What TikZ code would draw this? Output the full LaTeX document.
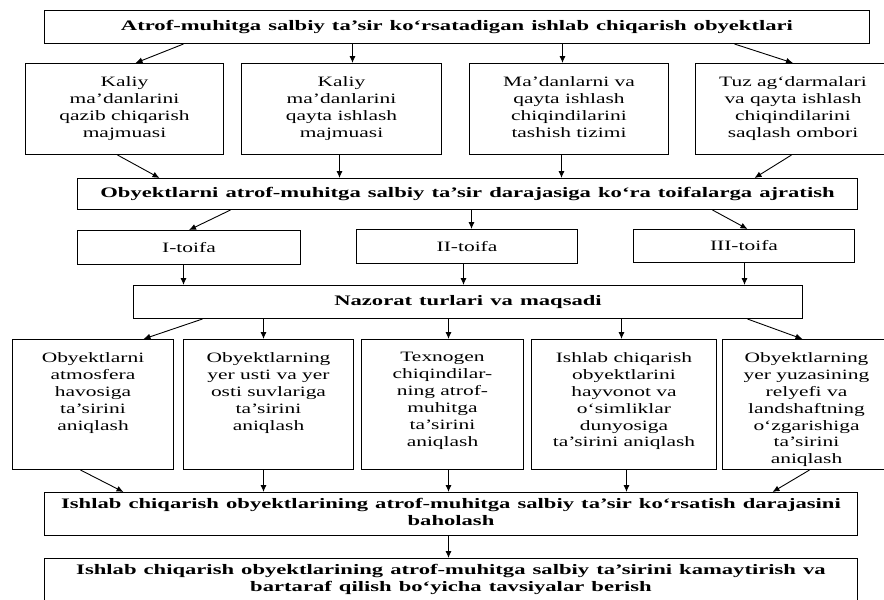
\documentclass[tikz,border=0pt]{standalone}
\usepackage{fontspec}
\setmainfont{Liberation Serif}[FakeStretch=1.5,BoldFeatures={FakeStretch=1.56,WordSpace=1.25}]
\usetikzlibrary{arrows.meta}

\tikzset{
  blok/.style={draw, line width=1pt, inner sep=0pt, anchor=north west, align=center},
  matn/.style={font=\fontsize{14.3}{16.9}\selectfont},
  qalin/.style={font=\fontsize{14.5}{16.3}\selectfont\bfseries},
  link/.style={line width=0.9pt, -{Latex[length=7pt,width=6pt]}}
}
\newcommand{\ustki}[4][13pt]{\parbox[c][#3pt][t]{#2pt}{\centering\vspace*{#1}#4}}

\begin{document}
\begin{tikzpicture}[x=1pt,y=-1pt]
            \useasboundingbox (0,0) rectangle (884,600);
            \clip (0,0) rectangle (884,600);
            % sarlavha
            \node[blok,qalin,minimum width=825pt,minimum height=33pt] (bosh) at (44,10)
              {Atrof-muhitga salbiy ta’sir ko‘rsatadigan ishlab chiqarish obyektlari};
            \node[blok,matn] (r2a) at (25,63) {\ustki{198}{91}{Kaliy\\ma’danlarini\\qazib chiqarish\\majmuasi}};
            \node[blok,matn] (r2b) at (241,63) {\ustki{200}{91}{Kaliy\\ma’danlarini\\qayta ishlash\\majmuasi}};
            \node[blok,matn] (r2c) at (469,63) {\ustki{199}{91}{Ma’danlarni va\\qayta ishlash\\chiqindilarini\\tashish tizimi}};
            \node[blok,matn] (r2d) at (695,63) {\ustki{195}{91}{Tuz ag‘darmalari\\va qayta ishlash\\chiqindilarini\\saqlash ombori}};
            \node[blok,qalin,minimum width=780pt,minimum height=31pt] (ajrat) at (77,178)
              {Obyektlarni atrof-muhitga salbiy ta’sir darajasiga ko‘ra toifalarga ajratish};
            % toifalar
            \node[blok,matn,minimum width=223pt,minimum height=34pt] (t1) at (77,230) {I-toifa};
            \node[blok,matn,minimum width=221pt,minimum height=34pt] (t2) at (356,229) {II-toifa};
            \node[blok,matn,minimum width=221pt,minimum height=33pt] (t3) at (633,229) {III-toifa};
            \node[blok,qalin,minimum width=669pt,minimum height=33pt] (nazorat) at (133,285)
              {Nazorat turlari va maqsadi};
            \node[blok,matn] (r5a) at (12,339) {\ustki{161}{130}{Obyektlarni\\atmosfera\\havosiga\\ta’sirini\\aniqlash}};
            \node[blok,matn] (r5b) at (183,339) {\ustki{170}{130}{Obyektlarning\\yer usti va yer\\osti suvlariga\\ta’sirini\\aniqlash}};
            \node[blok,matn] (r5c) at (361,339) {\ustki{162}{130}{Texnogen\\chiqindilar-\\ning atrof-\\muhitga\\ta’sirini\\aniqlash}};
            \node[blok,matn] (r5d) at (531,339) {\ustki{185}{130}{Ishlab chiqarish\\obyektlarini\\hayvonot va\\o‘simliklar\\dunyosiga\\ta’sirini aniqlash}};
            \node[blok,matn] (r5e) at (722,339) {\ustki{168}{130}{Obyektlarning\\yer yuzasining\\relyefi va\\landshaftning\\o‘zgarishiga\\ta’sirini\\aniqlash}};
            \node[blok,qalin] (baho) at (44,492)
              {\ustki[6pt]{813}{43}{Ishlab chiqarish obyektlarining atrof-muhitga salbiy ta’sir ko‘rsatish darajasini\\baholash}};
            \node[blok,qalin] (tavsiya) at (44,558)
              {\ustki[6pt]{813}{48}{Ishlab chiqarish obyektlarining atrof-muhitga salbiy ta’sirini kamaytirish va\\bartaraf qilish bo‘yicha tavsiyalar berish}};
            % strelkalar
            \draw[link] ([xshift=-273.5pt]bosh.south) -- ([xshift=11pt]r2a.north);
            \draw[link] ([xshift=-104.5pt]bosh.south) -- ([xshift=11pt]r2b.north);
            \draw[link] ([xshift=105.5pt]bosh.south) -- ([xshift=-6.5pt]r2c.north);
            \draw[link] ([xshift=277.5pt]bosh.south) -- (r2d.north);
            \draw[link] ([xshift=-7pt]r2a.south) -- ([xshift=-308pt]ajrat.north);
            \draw[link] ([xshift=-2pt]r2b.south) -- ([xshift=-128pt]ajrat.north);
            \draw[link] ([xshift=-7.5pt]r2c.south) -- ([xshift=94pt]ajrat.north);
            \draw[link] ([xshift=-1.5pt]r2d.south) -- ([xshift=287pt]ajrat.north);
            \draw[link] ([xshift=-237pt]ajrat.south) -- (t1.north);
            \draw[link] ([xshift=4pt]ajrat.south) -- ([xshift=4.5pt]t2.north);
            \draw[link] ([xshift=245pt]ajrat.south) -- ([xshift=3.5pt]t3.north);
            \draw[link] ([xshift=-5.5pt]t1.south) -- ([xshift=-284.5pt]nazorat.north);
            \draw[link] ([xshift=-3.5pt]t2.south) -- ([xshift=-4.5pt]nazorat.north);
            \draw[link] ([xshift=0.5pt]t3.south) -- ([xshift=276.5pt]nazorat.north);
            \draw[link] ([xshift=-265.5pt]nazorat.south) -- ([xshift=50.5pt]r5a.north);
            \draw[link] ([xshift=-204.5pt]nazorat.south) -- ([xshift=-5pt]r5b.north);
            \draw[link] ([xshift=-19.5pt]nazorat.south) -- ([xshift=6pt]r5c.north);
            \draw[link] ([xshift=153.5pt]nazorat.south) -- ([xshift=-2.5pt]r5d.north);
            \draw[link] ([xshift=279.5pt]nazorat.south) -- ([xshift=-4pt]r5e.north);
            \draw[link] ([xshift=-12.5pt]r5a.south) -- ([xshift=-327.5pt]baho.north);
            \draw[link] ([xshift=-5pt]r5b.south) -- ([xshift=-187.5pt]baho.north);
            \draw[link] ([xshift=6pt]r5c.south) -- ([xshift=-2.5pt]baho.north);
            \draw[link] ([xshift=2.5pt]r5d.south) -- ([xshift=175.5pt]baho.north);
            \draw[link] ([xshift=3pt]r5e.south) -- ([xshift=321.5pt]baho.north);
            \draw[link] ([xshift=-2.5pt]baho.south) -- ([xshift=-2.5pt]tavsiya.north);
          \end{tikzpicture}
\end{document}
